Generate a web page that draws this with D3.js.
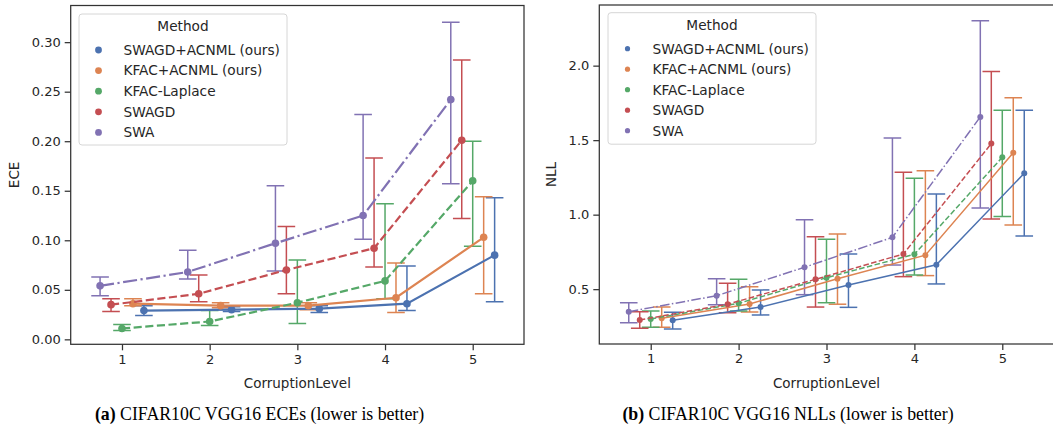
<!DOCTYPE html>
<html><head><meta charset="utf-8">
<script src="https://cdn.jsdelivr.net/npm/d3@7"></script>
<style>
html,body{margin:0;padding:0;background:#fff;}
svg{display:block;}
</style></head>
<body>
<svg id="chart" width="1053" height="425"></svg>
<script>
// ---------- DATA ----------
const levels = [1, 2, 3, 4, 5];
const methods = ["SWAGD+ACNML (ours)", "KFAC+ACNML (ours)", "KFAC-Laplace", "SWAGD", "SWA"];
const colors = ["#4C72B0", "#DD8452", "#55A868", "#C44E52", "#8172B3"];
const dodge = [0.25, 0.125, 0, -0.125, -0.25];
const dashStyle = ["solid", "solid", "dashed", "dashed", "dashdot"];

// ECE
const eceMean = [
  [0.029, 0.030, 0.031, 0.036, 0.085],
  [0.036, 0.034, 0.034, 0.042, 0.103],
  [0.011, 0.018, 0.037, 0.059, 0.160],
  [0.035, 0.046, 0.070, 0.092, 0.201],
  [0.054, 0.068, 0.097, 0.125, 0.242]
];
const eceLow = [
  [0.024, 0.028, 0.027, 0.029, 0.038],
  [0.034, 0.032, 0.030, 0.027, 0.046],
  [0.009, 0.014, 0.016, 0.041, 0.094],
  [0.028, 0.038, 0.046, 0.073, 0.122],
  [0.044, 0.061, 0.069, 0.101, 0.157]
];
const eceHigh = [
  [0.034, 0.033, 0.034, 0.074, 0.143],
  [0.041, 0.037, 0.037, 0.077, 0.144],
  [0.015, 0.029, 0.080, 0.137, 0.200],
  [0.041, 0.065, 0.114, 0.183, 0.282],
  [0.063, 0.090, 0.155, 0.227, 0.320]
];
const eceTicks = [0.00, 0.05, 0.10, 0.15, 0.20, 0.25, 0.30];

// NLL
const nllMean = [
  [0.291, 0.380, 0.528, 0.664, 1.278],
  [0.305, 0.401, 0.570, 0.728, 1.416],
  [0.300, 0.405, 0.577, 0.734, 1.385],
  [0.293, 0.399, 0.566, 0.736, 1.477],
  [0.349, 0.456, 0.647, 0.848, 1.656]
];
const nllLow = [
  [0.233, 0.327, 0.378, 0.535, 0.857],
  [0.244, 0.347, 0.399, 0.591, 0.931],
  [0.244, 0.354, 0.409, 0.595, 0.987],
  [0.238, 0.342, 0.380, 0.584, 0.971],
  [0.275, 0.396, 0.463, 0.662, 1.045]
];
const nllHigh = [
  [0.345, 0.495, 0.736, 1.139, 1.701],
  [0.380, 0.517, 0.870, 1.295, 1.785],
  [0.354, 0.566, 0.835, 1.244, 1.701],
  [0.349, 0.540, 0.852, 1.284, 1.960],
  [0.409, 0.570, 0.966, 1.515, 2.302]
];
const nllTicks = [0.5, 1.0, 1.5, 2.0];

const legendTitle = "Method";
const xLabel = "CorruptionLevel";

// ---------- DRAW ----------
const svg = d3.select("#chart");
const FONT = "DejaVu Sans, sans-serif";
const TXT = "#262626";

function dashArray(style, lw) {
  if (style === "dashed") return [3.7 * lw, 1.6 * lw].join(",");
  if (style === "dashdot") return [6.4 * lw, 1.6 * lw, 1 * lw, 1.6 * lw].join(",");
  return null;
}

function drawPanel(o) {
  const g = svg.append("g");
  const x = d3.scaleLinear().domain([0.415, 5.585]).range([o.left, o.right]);
  const y = d3.scaleLinear().domain(o.yDomain).range([o.bottom, o.top]);

  const clipId = "clip" + o.id;
  svg.append("clipPath").attr("id", clipId).append("rect")
    .attr("x", o.left).attr("y", o.top).attr("width", o.right - o.left).attr("height", o.bottom - o.top);

  const xAxis = d3.axisBottom(x).tickValues(levels).tickFormat(d3.format("d")).tickSize(6).tickPadding(4);
  const yAxis = d3.axisLeft(y).tickValues(o.ticks).tickFormat(d3.format(o.fmt)).tickSize(6).tickPadding(4);
  const gx = g.append("g").attr("transform", `translate(0,${o.bottom})`).call(xAxis);
  const gy = g.append("g").attr("transform", `translate(${o.left},0)`).call(yAxis);
  [gx, gy].forEach(a => {
    a.select(".domain").remove();
    a.selectAll(".tick line").attr("stroke", "#333").attr("stroke-width", 1.25);
    a.selectAll(".tick text").attr("fill", TXT).style("font-family", FONT).style("font-size", "13px");
  });

  const plot = g.append("g").attr("clip-path", `url(#${clipId})`);
  methods.forEach((m, i) => {
    const pts = levels.map((l, j) => ({ x: l + dodge[i], lo: o.low[i][j], hi: o.high[i][j] }));
    const eb = plot.append("g").attr("stroke", colors[i]).attr("stroke-width", o.ebw).attr("fill", "none");
    pts.forEach(p => {
      const px = x(p.x);
      eb.append("line").attr("x1", px).attr("x2", px).attr("y1", y(p.lo)).attr("y2", y(p.hi));
      eb.append("line").attr("x1", px - o.cap).attr("x2", px + o.cap).attr("y1", y(p.lo)).attr("y2", y(p.lo));
      eb.append("line").attr("x1", px - o.cap).attr("x2", px + o.cap).attr("y1", y(p.hi)).attr("y2", y(p.hi));
    });
  });
  methods.forEach((m, i) => {
    const pts = levels.map((l, j) => ({ x: l + dodge[i], m: o.mean[i][j] }));
    const line = d3.line().x(d => x(d.x)).y(d => y(d.m));
    plot.append("path").datum(pts).attr("d", line).attr("fill", "none")
      .attr("stroke", colors[i]).attr("stroke-width", o.lw)
      .attr("stroke-dasharray", dashArray(dashStyle[i], o.lw));
    plot.selectAll(null).data(pts).enter().append("circle")
      .attr("cx", d => x(d.x)).attr("cy", d => y(d.m)).attr("r", o.mr).attr("fill", colors[i]);
  });

  g.append("rect").attr("x", o.left).attr("y", o.top).attr("width", o.right - o.left).attr("height", o.bottom - o.top)
    .attr("fill", "none").attr("stroke", "#333").attr("stroke-width", 1.25);

  g.append("text").attr("x", (o.left + o.right) / 2).attr("y", o.bottom + 44).attr("text-anchor", "middle")
    .attr("fill", TXT).style("font-family", FONT).style("font-size", "13.5px").text(xLabel);
  g.append("text").attr("transform", `translate(${o.ylabX},${(o.top + o.bottom) / 2}) rotate(-90)`)
    .attr("text-anchor", "middle").attr("fill", TXT).style("font-family", FONT).style("font-size", "13.5px").text(o.yLabel);

  const L = o.legend;
  const lg = g.append("g");
  lg.append("rect").attr("x", L.x).attr("y", L.y).attr("width", L.w).attr("height", L.h).attr("rx", 3)
    .attr("fill", "#fff").attr("fill-opacity", 0.8).attr("stroke", "#d6d6d6").attr("stroke-width", 1);
  lg.append("text").attr("x", L.x + L.w / 2).attr("y", L.y + 17).attr("text-anchor", "middle")
    .attr("fill", TXT).style("font-family", FONT).style("font-size", "13.7px").text(legendTitle);
  methods.forEach((m, i) => {
    const cy = L.y + 36 + i * L.step;
    lg.append("circle").attr("cx", L.x + 19.5).attr("cy", cy).attr("r", L.mr).attr("fill", colors[i]);
    lg.append("text").attr("x", L.x + 44.5).attr("y", cy + 4.8).attr("fill", TXT)
      .style("font-family", FONT).style("font-size", "13.7px").text(m);
  });

  const cap = g.append("text").attr("x", o.capX).attr("y", 419.5).attr("text-anchor", "middle")
    .attr("fill", "#000").style("font-family", "Liberation Serif, Times New Roman, serif").style("font-size", "17.8px");
  cap.append("tspan").style("font-weight", "bold").text(o.capTag);
  cap.append("tspan").text(" " + o.caption);
}

drawPanel({
  id: "a", left: 70.7, right: 524, top: 5.5, bottom: 344.3,
  yDomain: [-0.005, 0.337], ticks: eceTicks, fmt: ".2f",
  mean: eceMean, low: eceLow, high: eceHigh,
  lw: 2.2, ebw: 1.5, mr: 3.8, cap: 8.8,
  yLabel: "ECE", ylabX: 19,
  legend: { x: 79, y: 14, w: 208, h: 131, step: 20.6, mr: 3.4 },
  capX: 259.5, capTag: "(a)", caption: "CIFAR10C VGG16 ECEs (lower is better)"
});
drawPanel({
  id: "b", left: 599.3, right: 1053.7, top: 5, bottom: 344,
  yDomain: [0.132, 2.407], ticks: nllTicks, fmt: ".1f",
  mean: nllMean, low: nllLow, high: nllHigh,
  lw: 1.5, ebw: 1.5, mr: 3.0, cap: 8.8,
  yLabel: "NLL", ylabX: 556,
  legend: { x: 608, y: 12.7, w: 208, h: 131.5, step: 20.5, mr: 2.6 },
  capX: 788, capTag: "(b)", caption: "CIFAR10C VGG16 NLLs (lower is better)"
});
</script>
</body></html>
